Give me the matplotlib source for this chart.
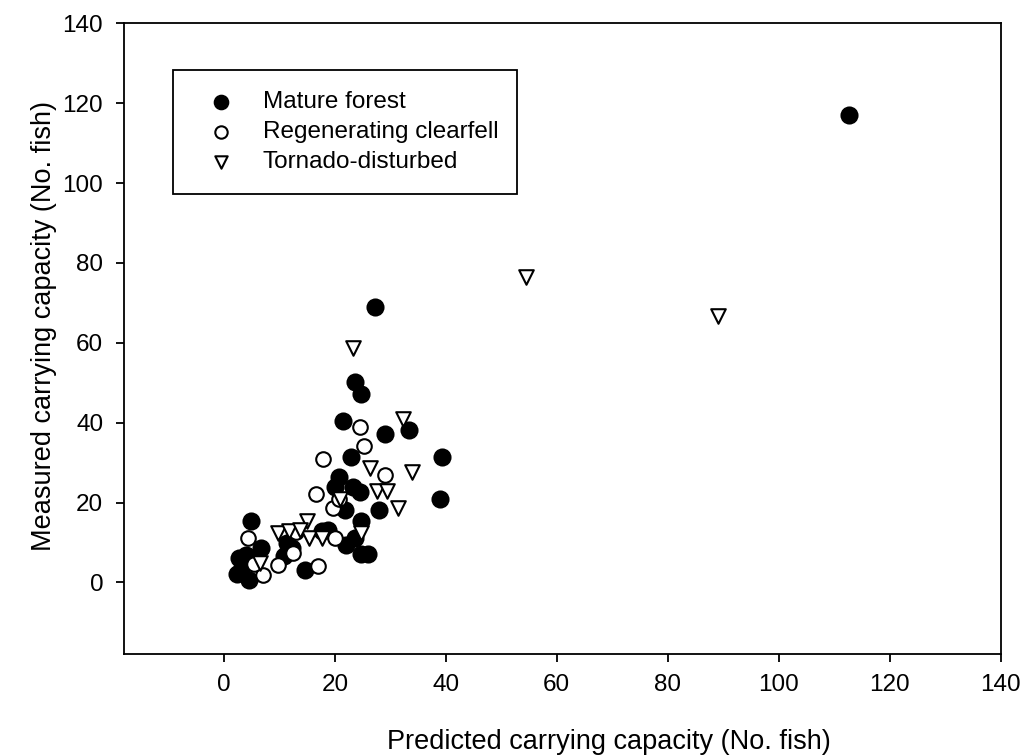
import matplotlib
matplotlib.use('Agg')
import matplotlib.pyplot as plt

plt.rcParams['font.family'] = ['Liberation Sans', 'DejaVu Sans']

# mature forest (filled circles)
mature_x = [112.6, 27.2, 23.6, 24.8, 21.5, 33.3, 29.0, 23.0, 39.4, 38.9,
            20.7, 23.3, 20.0, 24.6, 27.9, 21.8, 24.8, 23.6, 22.1, 24.8,
            26.0, 18.8, 17.6, 14.6, 11.3, 10.9, 12.3, 6.7, 4.9, 2.8,
            3.1, 4.6, 2.4, 4.9, 4.0]
mature_y = [117.0, 69.0, 50.1, 47.2, 40.5, 38.2, 37.2, 31.3, 31.3, 20.8,
            26.5, 24.0, 24.0, 22.7, 18.2, 18.2, 15.3, 11.1, 9.4, 7.0,
            7.0, 13.2, 12.8, 3.2, 9.9, 6.5, 8.5, 8.5, 15.3, 6.1,
            3.2, 0.7, 2.0, 5.3, 6.8]

# regenerating clearfell (open circles)
regen_x = [24.6, 25.2, 17.9, 29.0, 16.6, 19.6, 20.8, 20.0, 17.0, 12.4,
           9.7, 7.0, 4.3, 5.4, 13.0]
regen_y = [39.0, 34.2, 31.0, 27.0, 22.2, 18.6, 20.8, 11.1, 4.0, 7.4,
           4.4, 1.9, 11.1, 4.7, 12.6]

# tornado-disturbed (open down triangles)
tornado_x = [54.4, 89.0, 23.3, 32.3, 26.3, 33.9, 27.6, 29.4, 31.4, 21.0,
             24.8, 14.9, 15.4, 17.6, 9.7, 11.8, 13.7, 6.6]
tornado_y = [76.5, 66.7, 58.7, 40.9, 28.6, 27.6, 22.8, 22.8, 18.6, 20.8,
             12.4, 15.3, 11.1, 11.1, 12.4, 12.8, 13.2, 4.8]

ticks = [0, 20, 40, 60, 80, 100, 120, 140]

fig = plt.figure(figsize=(10.22, 7.56), dpi=100)
ax = fig.add_axes([0.1213, 0.1345, 0.8579, 0.8347])

ax.scatter(mature_x, mature_y, s=140, marker='o', facecolor='black',
           edgecolor='black', linewidth=1.2, label='Mature forest', zorder=3)
ax.scatter(regen_x, regen_y, s=110, marker='o', facecolor='white',
           edgecolor='black', linewidth=1.5, label='Regenerating clearfell', zorder=3)
ax.scatter(tornado_x, tornado_y, s=110, marker='v', facecolor='white',
           edgecolor='black', linewidth=1.5, label='Tornado-disturbed', zorder=3)

ax.set_xlim(-18, 140)
ax.set_ylim(-18, 140)
ax.set_xticks(ticks)
ax.set_yticks(ticks)
ax.tick_params(direction='out', length=6, width=1.3, labelsize=17.5)
ax.tick_params(axis='x', pad=8)
ax.tick_params(axis='y', pad=9)
for sp in ax.spines.values():
    sp.set_linewidth(1.3)

# labels centred on the 0-140 range, like the original
ax.set_xlabel('Predicted carrying capacity (No. fish)', fontsize=19.5,
              labelpad=24, x=0.553)
ax.set_ylabel('Measured carrying capacity (No. fish)', fontsize=19.5,
              labelpad=4, y=0.52)

leg = ax.legend(loc='upper left', bbox_to_anchor=(0.169, 0.743, 0.337, 0.164),
                bbox_transform=fig.transFigure, mode='expand', fontsize=17.5,
                frameon=True, fancybox=False, edgecolor='black', framealpha=1,
                markerscale=0.85, borderpad=0.85, labelspacing=0.33,
                handlelength=2.3, handletextpad=0.55, borderaxespad=0)
leg.get_frame().set_linewidth(1.3)

fig.savefig('out.png', dpi=100)
